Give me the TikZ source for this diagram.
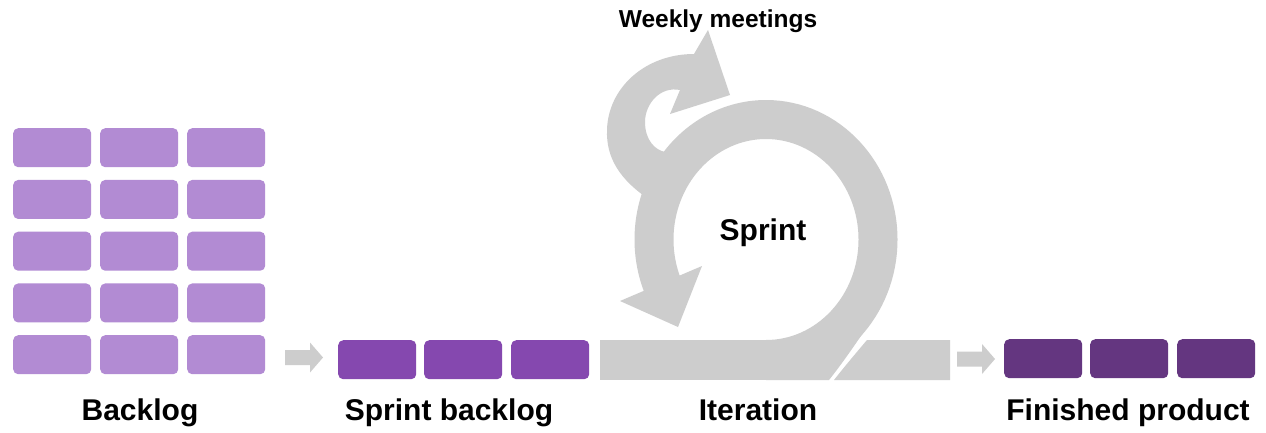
\documentclass[tikz,border=0pt]{standalone}
\usepackage{fontspec}
\setmainfont{Liberation Sans}
\usetikzlibrary{calc}
\definecolor{backlogc}{RGB}{178,139,211}
\definecolor{sprintc}{RGB}{133,72,175}
\definecolor{donec}{RGB}{100,54,128}
\definecolor{ribbonc}{RGB}{205,205,205}
\begin{document}
\begin{tikzpicture}[x=1pt,y=-1pt,
  card/.style={rectangle, rounded corners=5pt, inner sep=0pt, draw=none,
               minimum width=78pt, minimum height=39pt, anchor=north west},
  ribbon/.style={fill=ribbonc, draw=none},
  ribbonline/.style={draw=ribbonc, line width=39pt, line cap=butt},
  caption/.style={font=\bfseries\fontsize{30}{36}\selectfont, anchor=base, inner sep=0pt},
  smallcaption/.style={font=\bfseries\fontsize{24.5}{30}\selectfont, anchor=base, inner sep=0pt},
  blockarrow/.pic={\fill[ribbon] (0,-7.5) -- (25,-7.5) -- (25,-15) -- (38,0)
                    -- (25,15) -- (25,7.5) -- (0,7.5) -- cycle;}]
\fill[white] (0,0) rectangle (1266,432);
\useasboundingbox (0,0) rectangle (1266,432);

% product backlog: 5 x 3 grid of cards
\foreach \cx [count=\i] in {13,100,187}
  \foreach \cy [count=\j] in {128,179.75,231.5,283.25,335}
    \node[card, fill=backlogc] (bl-\j-\i) at (\cx,\cy) {};

% sprint backlog and finished product rows
\foreach \cx [count=\i] in {338,424,511}
  \node[card, fill=sprintc] (sb-\i) at (\cx,340) {};
\foreach \cx [count=\i] in {1004,1090,1177}
  \node[card, fill=donec] (fp-\i) at (\cx,339) {};

% block arrows between the stages
\pic at (285,357.5) {blockarrow};
\pic at (957,359) {blockarrow};

% iteration ribbon
\coordinate (c) at (766,239.5);
% outgoing piece of the line, right of the loop
\fill[ribbon] (834,380) .. controls (845,366) and (856,353) .. (867,340)
  -- (950,340) -- (950,380) -- cycle;
% incoming piece of the line
\fill[ribbon] (600,340) rectangle (800,380);
% the sprint loop
\draw[ribbonline] (766,359.5) arc[start angle=90, end angle=-202, x radius=112, y radius=120];
% widening where the loop leaves the line
\fill[ribbon] (766,380) -- (829,380) .. controls (845,360) and (863,333) .. (877,312)
  -- (860,300) -- (820,335) -- (790,350) -- (766,370) -- cycle;
% arrowhead of the loop
\fill[ribbon] (620,301) -- (702,266) -- (678,327) -- cycle;
% small weekly loop with its arrowhead
\fill[ribbon] (650,200) .. controls (620,180) and (606,158) .. (607,130)
  .. controls (608,88) and (645,54) .. (694,54)
  -- (708,30) -- (730,95) -- (670,114) -- (680,90)
  .. controls (660,86) and (645,104) .. (645,122)
  .. controls (645,140) and (655,150) .. (665,152)
  -- (700,160) -- (670,200) -- cycle;

% captions
\node[caption] (t-backlog) at (140,420) {Backlog};
\node[caption] (t-sprintbacklog) at (449,420) {Sprint backlog};
\node[caption] (t-iteration) at (758,420) {Iteration};
\node[caption] (t-finished) at (1128,420) {Finished product};
\node[caption] (t-sprint) at (763,240) {Sprint};
\node[smallcaption] (t-weekly) at (718,27) {Weekly meetings};
\end{tikzpicture}
\end{document}
